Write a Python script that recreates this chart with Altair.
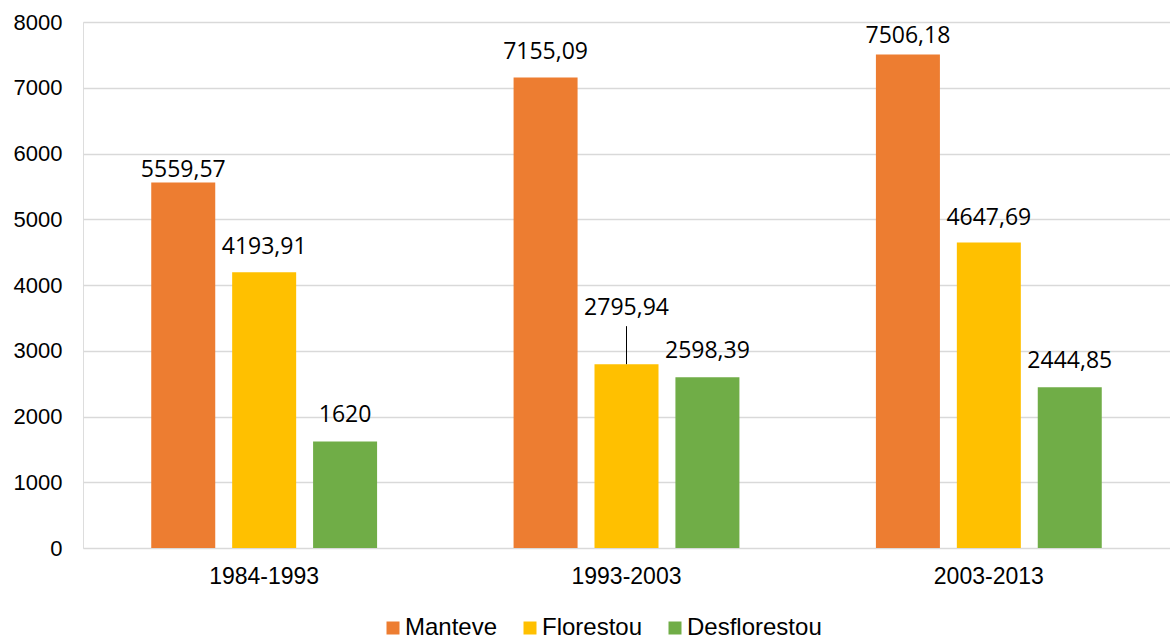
import altair as alt
import pandas as pd

periods = ["1984-1993", "1993-2003", "2003-2013"]
series = ["Manteve", "Florestou", "Desflorestou"]
manteve = [5559.57, 7155.09, 7506.18]
florestou = [4193.91, 2795.94, 4647.69]
desflorestou = [1620, 2598.39, 2444.85]
label_text = {
    "Manteve": ["5559,57", "7155,09", "7506,18"],
    "Florestou": ["4193,91", "2795,94", "4647,69"],
    "Desflorestou": ["1620", "2598,39", "2444,85"],
}
# pixel gap between bar top and label baseline (style)
label_gap = {
    "Manteve": [5, 19, 11],
    "Florestou": [18, 49, 17],
    "Desflorestou": [19, 19, 19],
}
colors = ["#ED7D31", "#FFC000", "#70AD47"]

rows = []
vals = {"Manteve": manteve, "Florestou": florestou, "Desflorestou": desflorestou}
for s in series:
    for i, p in enumerate(periods):
        rows.append({"period": p, "serie": s, "value": vals[s][i],
                     "label": label_text[s][i], "gap": label_gap[s][i],
                     "leader": 1 if label_gap[s][i] > 30 else 0})
df = pd.DataFrame(rows)

x = alt.X("period:N", sort=periods, title=None,
          scale=alt.Scale(paddingInner=0.33, paddingOuter=0.165),
          axis=alt.Axis(labelAngle=0, labelFont="Liberation Sans", labelFontSize=23,
                        labelColor="#000000", labelPadding=17, ticks=False, domain=False,
                        grid=False))
xo = alt.XOffset("serie:N", sort=series,
                 scale=alt.Scale(paddingInner=0.21, paddingOuter=0.105))
y = alt.Y("value:Q", title=None,
          scale=alt.Scale(domain=[0, 8000], nice=False),
          axis=alt.Axis(values=list(range(0, 8001, 1000)), format="d",
                        labelFont="Liberation Sans",
                        labelFontSize=22, labelColor="#000000", labelPadding=21,
                        ticks=False, domain=False, gridColor="#D9D9D9", gridWidth=1.5))
color = alt.Color("serie:N", sort=series,
                  scale=alt.Scale(domain=series, range=colors),
                  legend=alt.Legend(title=None, orient="none", direction="horizontal",
                                    legendX=298, legendY=594, symbolType="square",
                                    symbolSize=169, symbolStrokeWidth=0,
                                    labelFont="Liberation Sans", labelFontSize=24,
                                    labelColor="#000000", labelOffset=0,
                                    columnPadding=20, padding=0))

base = alt.Chart(df)
bars = base.mark_bar(size=64).encode(x=x, xOffset=xo, y=y, color=color)

layers = [bars]
leader = base.transform_filter("datum.leader == 1").mark_rule(
    color="#000000", strokeWidth=1, y2Offset=-38).encode(
    x=x, xOffset=xo, y=y, y2=alt.Y2("value:Q"))
layers.append(leader)

for g in sorted(set(df["gap"])):
    layers.append(
        base.transform_filter(f"datum.gap == {g}").mark_text(
            baseline="alphabetic", align="center", font="Open Sans",
            fontSize=23, color="#000000", dy=-int(g)).encode(
            x=x, xOffset=xo, y=y, text="label:N"))

chart = alt.layer(*layers).properties(
    width=1087, height=526,
    padding={"left": 83, "top": 22, "right": 0, "bottom": 91},
    autosize=alt.AutoSizeParams(type="none"),
).configure_view(stroke=None).configure(background="#FFFFFF")

chart.save("out.html", embed_options={"renderer": "svg", "actions": False})
